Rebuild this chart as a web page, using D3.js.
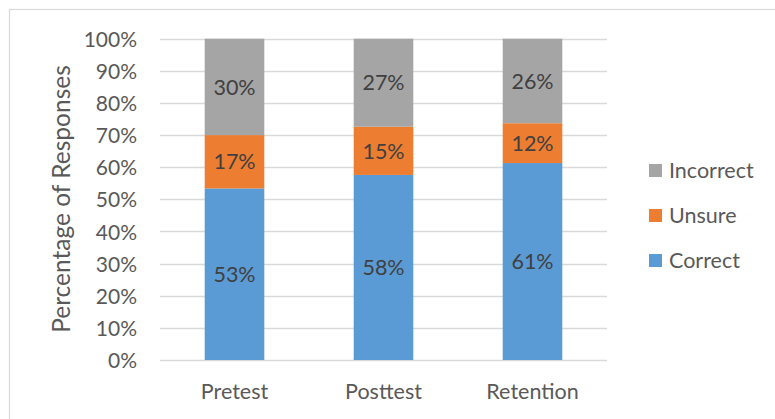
<!DOCTYPE html>
<html><head><meta charset="utf-8">
<script src="https://cdn.jsdelivr.net/npm/d3@7"></script>
<style>body{margin:0;background:#fff}svg{display:block}</style>
</head><body>
<script>
const categories = ["Pretest", "Posttest", "Retention"];
const seriesNames = ["Correct", "Unsure", "Incorrect"];
const correct = [53.4, 57.6, 61.3];
const unsure = [16.6, 15.0, 12.4];
const incorrect = [30.0, 27.4, 26.3];
const yTicks = [0,10,20,30,40,50,60,70,80,90,100];
const colors = {Correct:"#5b9bd5", Unsure:"#ed7d31", Incorrect:"#a5a5a5"};

const W = 775, H = 419;
const svg = d3.select("body").append("svg").attr("width", W).attr("height", H);
const font = "Lato, 'Open Sans', sans-serif";

// chart border
svg.append("rect").attr("x", 9.5).attr("y", 9.5).attr("width", W).attr("height", H)
  .attr("fill", "none").attr("stroke", "#d9d9d9").attr("stroke-width", 1.2);

const x = d3.scaleBand().domain(categories).range([160, 607]).paddingInner(0.6).paddingOuter(0.3);
const y = d3.scaleLinear().domain([0, 100]).range([360, 38.7]);

// gridlines
svg.append("g").selectAll("line").data(yTicks).join("line")
  .attr("x1", 160).attr("x2", 607)
  .attr("y1", d => Math.round(y(d)) + 0.5).attr("y2", d => Math.round(y(d)) + 0.5)
  .attr("stroke", "#d9d9d9").attr("stroke-width", 1.3);

// y axis labels
const yAxis = d3.axisLeft(y).tickValues(yTicks).tickFormat(d => d + "%").tickSize(0).tickPadding(0);
const ya = svg.append("g").attr("transform", "translate(137,0)").call(yAxis);
ya.select(".domain").remove();
ya.selectAll("text").attr("font-family", font).attr("font-size", 21).attr("fill", "#595959").attr("dy", "0.36em");

// x axis labels
const xAxis = d3.axisBottom(x).tickSize(0).tickPadding(0);
const xa = svg.append("g").attr("transform", "translate(0,399)").call(xAxis);
xa.select(".domain").remove();
xa.selectAll("text").attr("font-family", font).attr("font-size", 21.5).attr("fill", "#595959").attr("dy", 0);

// stacked data
const table = categories.map((c, i) => ({cat: c, Correct: correct[i], Unsure: unsure[i], Incorrect: incorrect[i]}));
const stack = d3.stack().keys(seriesNames)(table);

const layers = svg.append("g").selectAll("g").data(stack).join("g").attr("fill", d => colors[d.key]);
layers.selectAll("rect").data(d => d).join("rect")
  .attr("x", d => x(d.data.cat)).attr("width", x.bandwidth())
  .attr("y", d => y(d[1])).attr("height", d => y(d[0]) - y(d[1]));

// data labels
const lbl = svg.append("g");
stack.forEach(layer => {
  layer.forEach(d => {
    lbl.append("text")
      .attr("x", x(d.data.cat) + x.bandwidth() / 2)
      .attr("y", (y(d[0]) + y(d[1])) / 2)
      .attr("dy", "0.36em")
      .attr("text-anchor", "middle")
      .attr("font-family", font).attr("font-size", 21.5).attr("fill", "#404040")
      .text(Math.round(d.data[layer.key]) + "%");
  });
});

// y axis title
svg.append("text")
  .attr("transform", "translate(70,199) rotate(-90)")
  .attr("text-anchor", "middle")
  .attr("font-family", font).attr("font-size", 24.5).attr("fill", "#595959")
  .text("Percentage of Responses");

// legend
const legendOrder = ["Incorrect", "Unsure", "Correct"];
const lg = svg.append("g").selectAll("g").data(legendOrder).join("g")
  .attr("transform", (d, i) => `translate(649,${170.5 + i * 45})`);
lg.append("rect").attr("x", 0).attr("y", -6.5).attr("width", 13).attr("height", 13).attr("fill", d => colors[d]);
lg.append("text").attr("x", 20).attr("dy", "0.36em")
  .attr("font-family", font).attr("font-size", 21.5).attr("fill", "#595959").text(d => d);
</script>
</body></html>
